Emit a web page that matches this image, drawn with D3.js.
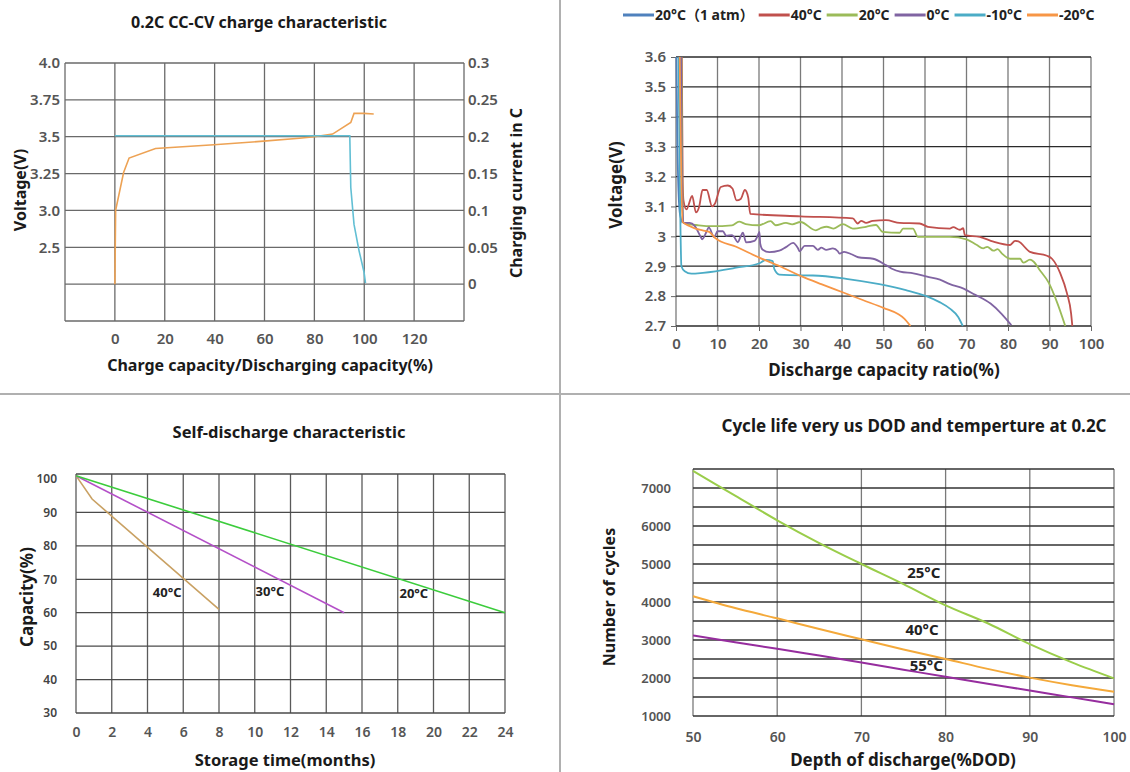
<!DOCTYPE html>
<html>
<head>
<meta charset="utf-8">
<script src="https://cdn.jsdelivr.net/npm/d3@7"></script>
<style>
body { margin: 0; background: #fff; }
text { font-family: "Noto Sans", "Noto Sans CJK SC", sans-serif; }
</style>
</head>
<body>
<script>
// ---------- chart 1 : 0.2C CC-CV charge ----------
var chargeVoltage = [[0,2.0],[0.3,3.0],[3.5,3.257],[5.7,3.355],[16.3,3.42],[39.7,3.445],[59.6,3.47],[74,3.49],[80,3.5],[87.3,3.518],[94.6,3.597],[95.9,3.658],[99.9,3.658],[103.8,3.654]]
var chargeCurrent = [[0,0.2014],[94.2,0.2014],[94.6,0.131],[95.9,0.081],[97.9,0.0455],[99.9,0.0165],[100.5,0.0015]]
var voltTicks = [2.5, 3.0, 3.25, 3.5, 3.75, 4.0]
var voltLabels = ["2.5", "3.0", "3.25", "3.5", "3.75", "4.0"]
var currTicks = [0, 0.05, 0.1, 0.15, 0.2, 0.25, 0.3]
var currLabels = ["0", "0.05", "0.1", "0.15", "0.2", "0.25", "0.3"]
var capTicks = [0, 20, 40, 60, 80, 100, 120]

// ---------- chart 2 : discharge at temperatures ----------
var dischargeNames = ["20°C（1 atm）", "40°C", "20°C", "0°C", "-10°C", "-20°C"]
var dischargeColors = ["#4f81bd", "#c0504d", "#9bbb59", "#8064a2", "#4bacc6", "#f79646"]
var dis20atm = [[0.1,3.6],[0.3,3.35],[0.6,3.15],[1.0,3.07],[1.6,3.045]]
var dis40 = [[1.4,3.6],[1.6,3.2],[1.8,3.12],[2.5,3.09],[3.9,3.135],[4.8,3.08],[5.6,3.1],[6.4,3.155],[7.4,3.155],[8.7,3.1],[9.4,3.11],[10.8,3.165],[12.5,3.17],[13.6,3.16],[14.6,3.12],[15.6,3.125],[16.6,3.155],[17.4,3.13],[17.9,3.075],[30,3.067],[42.6,3.06],[43.8,3.043],[44.6,3.052],[45.8,3.045],[47.4,3.052],[50.6,3.054],[53.9,3.045],[58.7,3.043],[60.7,3.032],[66,3.026],[66.8,3.031],[68.4,3.022],[69.2,3.027],[69.6,3.004],[73.2,2.998],[76.5,2.982],[80.5,2.971],[81.7,2.985],[82.5,2.983],[85.3,2.948],[89.4,2.935],[90.6,2.925],[92.6,2.876],[94.2,2.81],[95.2,2.742],[95.5,2.7]]
var dis20 = [[1.3,3.6],[1.5,3.2],[1.8,3.045],[5.5,3.037],[8.7,3.034],[13.5,3.037],[15.2,3.049],[16.8,3.041],[20,3.037],[22.8,3.051],[24,3.037],[26.5,3.045],[28,3.04],[30,3.048],[33.7,3.02],[35,3.028],[36.3,3.032],[38,3.026],[40.2,3.041],[42.6,3.026],[45.8,3.032],[48.2,3.038],[49.8,3.015],[53.9,3.012],[54.7,3.026],[57.1,3.026],[58.3,2.998],[66,2.998],[70,2.99],[72.4,2.972],[74,2.96],[75,2.965],[76.5,2.952],[77.5,2.957],[78.5,2.943],[80.5,2.925],[82.9,2.925],[83.7,2.912],[85.3,2.922],[86.2,2.915],[87.5,2.89],[89.8,2.845],[91.8,2.78],[93.8,2.7]]
var dis0 = [[1.2,3.6],[1.4,3.2],[1.8,3.045],[3.3,3.045],[4.5,3.035],[6.0,2.997],[6.3,2.99],[7.4,3.017],[7.9,3.03],[9.2,2.997],[10,3.017],[11.3,3.017],[12.1,3.002],[13.5,3.004],[14,2.998],[14.9,2.98],[15.5,2.997],[16.1,3.012],[16.9,2.98],[18.9,2.985],[19.7,3.002],[20.1,3.015],[20.3,2.975],[20.9,2.955],[22.5,2.947],[24.9,2.952],[26.5,2.964],[28.2,2.978],[29.4,2.96],[29.8,2.95],[31,2.968],[33,2.968],[34.2,2.955],[35,2.962],[36.2,2.955],[37.8,2.96],[39,2.95],[39.4,2.942],[40.5,2.948],[42.3,2.94],[43.9,2.93],[47.5,2.925],[50.7,2.903],[52.3,2.89],[54,2.882],[57.2,2.876],[60.5,2.865],[63.6,2.855],[66,2.84],[69.3,2.825],[72,2.805],[75.8,2.775],[78.5,2.74],[80.8,2.703]]
var disM10 = [[0.6,3.6],[1.0,3.1],[1.3,2.9],[2.1,2.883],[3.7,2.875],[6.5,2.878],[14.5,2.895],[20.1,2.91],[21.7,2.921],[23.3,2.917],[23.7,2.89],[24.9,2.872],[27.4,2.87],[33,2.869],[41,2.858],[49,2.84],[55.4,2.82],[60.3,2.8],[63.5,2.78],[66,2.758],[68,2.73],[69.1,2.7]]
var disM20 = [[0.9,3.6],[1.6,3.048],[3.2,3.035],[4.7,3.026],[6.4,3.02],[8.0,3.015],[9.4,2.995],[14.5,2.965],[20.2,2.928],[25,2.9],[30.3,2.866],[35,2.84],[40.3,2.812],[45,2.787],[50.1,2.76],[53.5,2.74],[55,2.725],[56.5,2.7]]
var dischargeSeries = [dis20atm, dis40, dis20, dis0, disM10, disM20]
var ratioTicks = [0, 10, 20, 30, 40, 50, 60, 70, 80, 90, 100]
var dischargeVoltTicks = [2.7, 2.8, 2.9, 3.0, 3.1, 3.2, 3.3, 3.4, 3.5, 3.6]

// ---------- chart 3 : self-discharge ----------
var selfNames = ["40°C", "30°C", "20°C"]
var selfColors = ["#c9a163", "#b450c8", "#3ccc3c"]
var self40 = [[0,101],[0.9,94],[8,61]]
var self30 = [[0,101],[15,60]]
var self20 = [[0,101],[24,60]]
var selfSeries = [self40, self30, self20]
var monthTicks = [0, 2, 4, 6, 8, 10, 12, 14, 16, 18, 20, 22, 24]
var capacityTicks = [30, 40, 50, 60, 70, 80, 90, 100]

// ---------- chart 4 : cycle life vs DOD ----------
var cycleNames = ["25°C", "40°C", "55°C"]
var cycleColors = ["#9acd4a", "#f4a93a", "#962d9e"]
var cycle25 = [[50,7450],[55,6800],[60,6150],[65,5550],[70,5000],[75,4470],[80,3910],[85,3440],[90,2890],[95,2410],[100,1990]]
var cycle40 = [[50,4150],[55,3840],[60,3570],[65,3290],[70,3020],[75,2750],[80,2500],[85,2240],[90,2010],[95,1810],[100,1640]]
var cycle55 = [[50,3120],[55,2940],[60,2770],[65,2590],[70,2410],[75,2220],[80,2030],[85,1850],[90,1670],[95,1490],[100,1310]]
var cycleSeries = [cycle25, cycle40, cycle55]
var dodTicks = [50, 60, 70, 80, 90, 100]
var cycleTicks = [1000, 2000, 3000, 4000, 5000, 6000, 7000]

var svg = d3.select("body").append("svg")
    .attr("width", 1130)
    .attr("height", 772)

// panel dividers
svg.append("line").attr("x1", 560).attr("x2", 560).attr("y1", 0).attr("y2", 772)
    .style("stroke", "#b0b0b0").style("stroke-width", 2)
svg.append("line").attr("x1", 0).attr("x2", 1130).attr("y1", 394).attr("y2", 394)
    .style("stroke", "#b0b0b0").style("stroke-width", 2)

// draws grid lines of a panel
function grid(xs, ys, x, y, vColor, hColor) {
  var g = svg.append("g")
  var y0 = d3.min(y.range()), y1 = d3.max(y.range())
  var x0 = d3.min(x.range()), x1 = d3.max(x.range())
  g.selectAll(".v").data(xs).enter().append("line")
      .attr("x1", d => x(d)).attr("x2", d => x(d))
      .attr("y1", y0).attr("y2", y1)
      .style("stroke", vColor).style("stroke-width", 1.3)
  g.selectAll(".h").data(ys).enter().append("line")
      .attr("x1", x0).attr("x2", x1)
      .attr("y1", d => y(d)).attr("y2", d => y(d))
      .style("stroke", hColor).style("stroke-width", 1.3)
}

function axisText(axis, tx, ty, size, color, keepTicks) {
  var a = svg.append("g")
      .attr("transform", "translate(" + tx + "," + ty + ")")
      .call(axis)
  a.select(".domain").remove()
  if (!keepTicks) a.selectAll("line").remove()
  else a.selectAll("line").style("stroke", "#666")
  a.selectAll("text")
      .style("font-family", '"Noto Sans", sans-serif')
      .style("font-size", size + "px")
      .style("font-weight", 600)
      .style("fill", color)
  return a
}

function label(txt, x, y, size, rotate, color) {
  svg.append("text")
      .attr("transform", "translate(" + x + "," + y + ")" + (rotate ? "rotate(-90)" : ""))
      .attr("text-anchor", "middle")
      .attr("dy", "0.35em")
      .style("font-size", size + "px")
      .style("font-weight", 700)
      .style("fill", color || "#1a1a1a")
      .text(txt)
}

// ================= chart 1 =================
var x1 = d3.scaleLinear().domain([-20, 140]).range([65, 464])
var c1 = d3.scaleLinear().domain([-0.05, 0.3]).range([321, 63])
// voltage axis is not evenly spaced, map it onto the current gridlines
var v1 = d3.scaleLinear()
    .domain([2.0, 2.5, 3.0, 3.25, 3.5, 3.75, 4.0])
    .range([0, 0.05, 0.1, 0.15, 0.2, 0.25, 0.3].map(c1))

grid(d3.range(-20, 141, 20), d3.range(-0.05, 0.301, 0.05), x1, c1, "#6a6a6a", "#6a6a6a")

axisText(d3.axisLeft(v1).tickValues(voltTicks).tickSize(0).tickPadding(5)
    .tickFormat((d, i) => voltLabels[i]), 65, 0, 15, "#555")
axisText(d3.axisRight(c1).tickValues(currTicks).tickSize(0).tickPadding(4)
    .tickFormat((d, i) => currLabels[i]), 464, 0, 15, "#555")
axisText(d3.axisBottom(x1).tickValues(capTicks).tickSize(0).tickPadding(12), 0, 321, 15, "#555")

svg.append("path").datum(chargeVoltage)
    .attr("d", d3.line().x(d => x1(d[0])).y(d => v1(d[1])))
    .style("fill", "none").style("stroke", "#eda254").style("stroke-width", 1.6)
svg.append("path").datum(chargeCurrent)
    .attr("d", d3.line().x(d => x1(d[0])).y(d => c1(d[1])))
    .style("fill", "none").style("stroke", "#62bfd4").style("stroke-width", 1.6)

label("0.2C CC-CV charge characteristic", 259, 22, 16)
label("Voltage(V)", 20, 190, 16, true)
label("Charging current in C", 516, 193, 16, true)
label("Charge capacity/Discharging capacity(%)", 270, 365, 16)

// ================= chart 2 =================
var x2 = d3.scaleLinear().domain([0, 100]).range([676, 1091])
var y2 = d3.scaleLinear().domain([2.7, 3.6]).range([326, 57])

grid(ratioTicks, dischargeVoltTicks, x2, y2, "#7a7a7a", "#2a2a2a")

axisText(d3.axisLeft(y2).tickValues(dischargeVoltTicks).tickSize(5).tickPadding(5)
    .tickFormat(d => String(+d.toFixed(1))), 676, 0, 15, "#555", true)
axisText(d3.axisBottom(x2).tickValues(ratioTicks).tickSize(5).tickPadding(7), 0, 326, 15, "#555", true)

var line2 = d3.line().curve(d3.curveMonotoneX).x(d => x2(d[0])).y(d => y2(d[1]))
// the 20°C (1 atm) reference goes first so others sit above it
svg.selectAll(".dis").data(dischargeSeries).enter().append("path")
    .attr("d", line2)
    .style("fill", "none")
    .style("stroke", (d, i) => dischargeColors[i])
    .style("stroke-width", 1.8)

var lx = 623
var leg = svg.append("g")
dischargeNames.forEach(function (n, i) {
  leg.append("line").attr("x1", lx).attr("x2", lx + 31).attr("y1", 15).attr("y2", 15)
      .style("stroke", dischargeColors[i]).style("stroke-width", 3)
  var t = leg.append("text").attr("x", lx + 32).attr("y", 15).attr("dy", "0.35em")
      .style("font-size", "14px").style("font-weight", 700).style("fill", "#222")
      .text(n)
  lx += 32 + t.node().getComputedTextLength() + 5
})

label("Voltage(V)", 616, 185, 17, true)
label("Discharge capacity ratio(%)", 884, 370, 17)

// ================= chart 3 =================
var x3 = d3.scaleLinear().domain([0, 24]).range([76, 505])
var y3 = d3.scaleLinear().domain([30, 101.5]).range([713, 474])

grid(monthTicks, [30, 40, 50, 60, 70, 80, 90, 101.5], x3, y3, "#5a5a5a", "#4a4a4a")

axisText(d3.axisLeft(y3).tickValues(capacityTicks).tickSize(0).tickPadding(19), 76, 0, 12, "#444")
axisText(d3.axisBottom(x3).tickValues(monthTicks).tickSize(0).tickPadding(14), 0, 713, 14, "#555")

var line3 = d3.line().x(d => x3(d[0])).y(d => y3(d[1]))
svg.selectAll(".self").data(selfSeries).enter().append("path")
    .attr("d", line3)
    .style("fill", "none")
    .style("stroke", (d, i) => selfColors[i])
    .style("stroke-width", 1.6)

// curve labels
var selfLabelAt = [[5.1, 66.2], [10.85, 66.5], [18.9, 65.8]]
selfNames.forEach(function (n, i) {
  svg.append("text")
      .attr("x", x3(selfLabelAt[i][0])).attr("y", y3(selfLabelAt[i][1]))
      .attr("text-anchor", "middle").attr("dy", "0.35em")
      .style("font-size", "13px").style("font-weight", 700).style("fill", "#222")
      .text(n)
})

label("Self-discharge characteristic", 289, 432, 16.5)
label("Capacity(%)", 27, 597, 17, true)
label("Storage time(months)", 285, 760, 16.5)

// ================= chart 4 =================
var x4 = d3.scaleLinear().domain([50, 100]).range([693, 1114])
var y4 = d3.scaleLinear().domain([1000, 7500]).range([716, 469])

grid(dodTicks, d3.range(1000, 7001, 500).concat([7500]), x4, y4, "#7a7a7a", "#333")

axisText(d3.axisLeft(y4).tickValues(cycleTicks).tickSize(0).tickPadding(22)
    .tickFormat(d3.format("d")), 693, 0, 13, "#555")
axisText(d3.axisBottom(x4).tickValues(dodTicks).tickSize(0).tickPadding(16), 0, 716, 14, "#555")

var cycleLabelAt = [[77.4, 4760], [77.2, 3260], [77.7, 2320]]
cycleNames.forEach(function (n, i) {
  svg.append("text")
      .attr("x", x4(cycleLabelAt[i][0])).attr("y", y4(cycleLabelAt[i][1]))
      .attr("text-anchor", "middle").attr("dy", "0.35em")
      .style("font-size", "15px").style("font-weight", 700).style("fill", "#222")
      .text(n)
})

var line4 = d3.line().curve(d3.curveMonotoneX).x(d => x4(d[0])).y(d => y4(d[1]))
svg.selectAll(".cyc").data(cycleSeries).enter().append("path")
    .attr("d", line4)
    .style("fill", "none")
    .style("stroke", (d, i) => cycleColors[i])
    .style("stroke-width", 2)

label("Cycle life very us DOD and temperture at 0.2C", 914, 426, 17)
label("Number of cycles", 609, 597, 16, true)
label("Depth of discharge(%DOD)", 903, 760, 17)
</script>
</body>
</html>
